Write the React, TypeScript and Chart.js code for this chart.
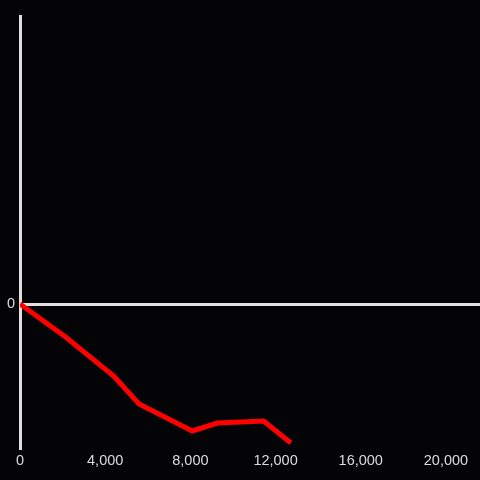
import React, { useEffect, useRef } from "react";
import { Chart, registerables } from "chart.js";

Chart.register(...registerables);

const xValues = [0, 2140, 4400, 5590, 8090, 9270, 11440, 12720];
const yValues = [0, -33, -72, -100, -127, -119, -117, -139];
const xTickValues = [0, 4000, 8000, 12000, 16000, 20000];
const xMin = 0;
const xMax = 21600;
const yMin = -144;
const yMax = 288;
const yTickValues = [0];

const BG = "#040306";
const AXIS = "#e0e0e0";
const TEXT = "#dcdcdc";

export default function App() {
  const ref = useRef<HTMLCanvasElement | null>(null);
  useEffect(() => {
    if (!ref.current) return;
    document.body.style.background = BG;
    const chart = new Chart(ref.current, {
      type: "line",
      data: {
        datasets: [
          {
            data: xValues.map((x, i) => ({ x, y: yValues[i] })),
            borderColor: "#ff0000",
            borderWidth: 5,
            pointRadius: 0,
            tension: 0,
            fill: false,
          },
        ],
      },
      options: {
        animation: false,
        responsive: false,
        devicePixelRatio: 1,
        layout: { padding: { top: 16, left: 0, right: 0, bottom: 0 } },
        plugins: { legend: { display: false }, tooltip: { enabled: false } },
        scales: {
          x: {
            type: "linear",
            min: xMin,
            max: xMax,
            border: { display: false },
            grid: { display: false, drawTicks: false },
            afterBuildTicks: (s: any) => {
              s.ticks = xTickValues.map((v) => ({ value: v }));
            },
            ticks: {
              maxRotation: 0,
              autoSkip: false,
              color: TEXT,
              padding: 4,
              font: { family: "'Liberation Sans', Arial, sans-serif", size: 14.5 },
              callback: (v: any) => Number(v).toLocaleString("en-US"),
            },
            afterFit: (s: any) => {
              s.height = 32;
            },
          },
          y: {
            type: "linear",
            min: yMin,
            max: yMax,
            border: { display: true, color: AXIS, width: 3 },
            grid: {
              drawTicks: false,
              lineWidth: 3,
              color: (ctx: any) => (ctx.tick && ctx.tick.value === 0 ? AXIS : "rgba(0,0,0,0)"),
            },
            afterBuildTicks: (s: any) => {
              s.ticks = yTickValues.map((v) => ({ value: v }));
            },
            ticks: {
              color: TEXT,
              padding: 5,
              font: { family: "'Liberation Sans', Arial, sans-serif", size: 14.5 },
              callback: (v: any) => String(v),
            },
            afterFit: (s: any) => {
              s.width = 20;
            },
          },
        },
      },
    });
    return () => chart.destroy();
  }, []);
  return (
    <div style={{ position: "fixed", left: 0, top: 0, width: 480, height: 480, background: BG }}>
      <canvas ref={ref} width={480} height={480} style={{ display: "block" }} />
    </div>
  );
}
